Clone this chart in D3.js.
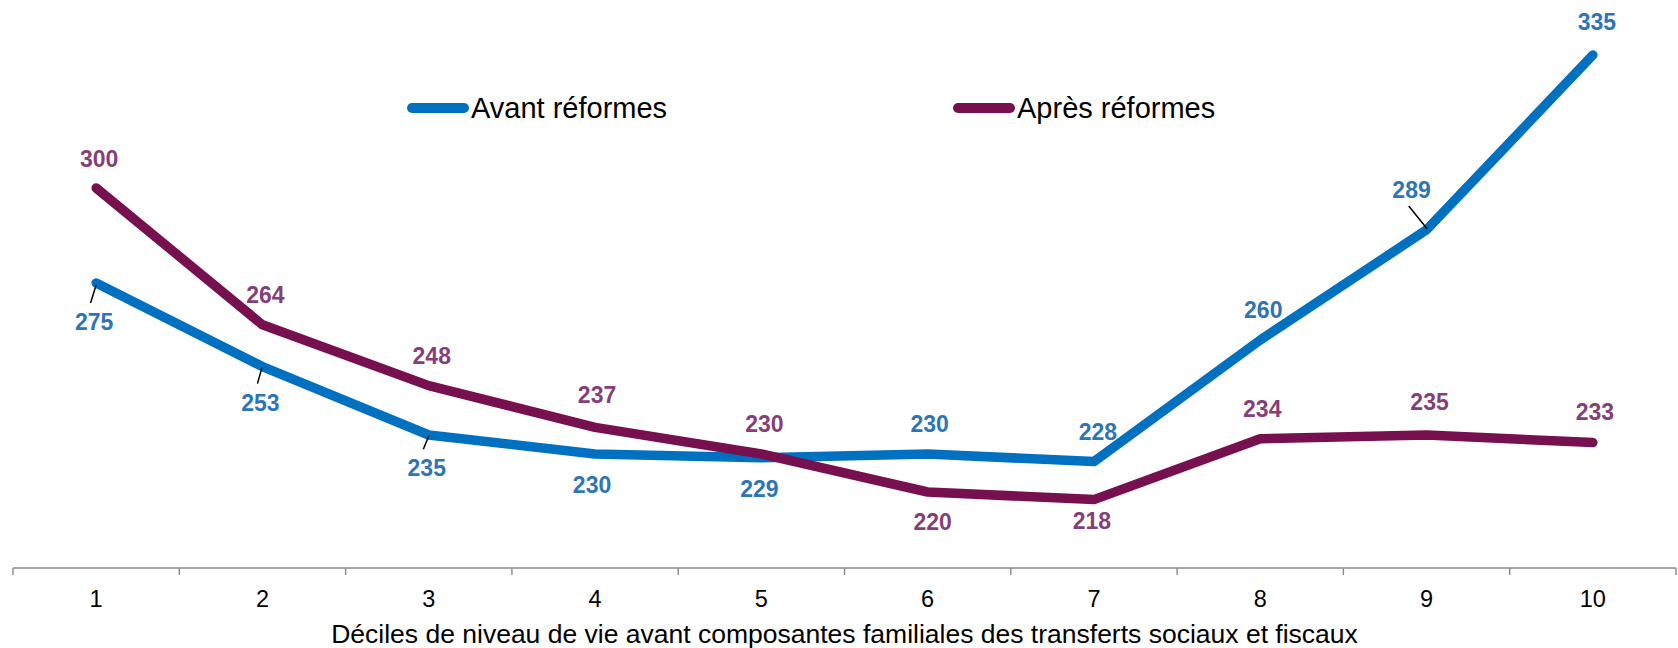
<!DOCTYPE html>
<html>
<head>
<meta charset="utf-8">
<script src="https://cdn.jsdelivr.net/npm/d3@7"></script>
<style>
  html, body { margin: 0; padding: 0; background: #fff; }
  svg { display: block; font-family: "Liberation Sans", Arial, sans-serif; }
</style>
</head>
<body>
<svg width="1678" height="648"></svg>
<script>
// data
const deciles = ['1', '2', '3', '4', '5', '6', '7', '8', '9', '10']
const avant = [275, 253, 235, 230, 229, 230, 228, 260, 289, 335]
const apres = [300, 264, 248, 237, 230, 220, 218, 234, 235, 233]
const seriesNames = ['Avant réformes', 'Après réformes']
const axisTitle = 'Déciles de niveau de vie avant composantes familiales des transferts sociaux et fiscaux'

const blue = '#0070c0',
    purple = '#77104f',
    blueLabel = '#2e75b6',
    purpleLabel = '#853f78',
    axes_color = '#8a8a8a'

const svg = d3.select('svg'),
    width = +svg.attr('width'),
    height = +svg.attr('height')

const x = d3.scaleBand()
    .domain(deciles)
    .range([13, 1676])
    .padding(0),
    y = d3.scaleLinear()
    .domain([200, 350])
    .range([568, -2]),
    cx = (i) => x(deciles[i]) + x.bandwidth() / 2

// label offsets from each point (label centre), in px
const avantOffsets = [[-2, 39], [-2, 36], [-2, 33], [-3, 31], [-2, 31],
    [2, -30], [4, -30], [3, -30], [-15, -40], [4, -33]]
const apresOffsets = [[3, -29], [3, -30], [3, -30], [2, -32], [3, -30],
    [5, 30], [-2, 21], [2, -30], [3, -33], [2, -31]]
// little leader lines on some of the blue labels
const avantLeaders = [
    { i: 0, d: [0, 2, -5.6, 20] },
    { i: 1, d: [-0.5, 1, -5, 17] },
    { i: 2, d: [0, 1, -5.4, 14.3] },
    { i: 8, d: [-17.8, -23.8, 0.5, -1] }
]

// x axis: domain line + ticks on band edges
const axis = svg.append('g')
axis.append('line')
    .attr('x1', x.range()[0]).attr('x2', x.range()[1])
    .attr('y1', y(200)).attr('y2', y(200))
    .style('stroke', axes_color).style('stroke-width', 1.4)

const edges = deciles.map((d) => x(d)).concat([x.range()[1]])
axis.selectAll('.tick')
    .data(edges)
    .enter().append('line')
    .attr('x1', (d) => d).attr('x2', (d) => d)
    .attr('y1', y(200)).attr('y2', y(200) + 7)
    .style('stroke', axes_color).style('stroke-width', 1.4)

axis.selectAll('.ticklabel')
    .data(deciles)
    .enter().append('text')
    .attr('x', (d, i) => cx(i))
    .attr('y', 606.5)
    .attr('text-anchor', 'middle')
    .style('font-size', '23.5px')
    .style('fill', '#000')
    .text((d) => d)

svg.append('text')
    .attr('x', (x.range()[0] + x.range()[1]) / 2)
    .attr('y', 643)
    .attr('text-anchor', 'middle')
    .style('font-size', '26.5px')
    .style('fill', '#000')
    .text(axisTitle)

// lines
const line = d3.line()
    .x((d, i) => cx(i))
    .y((d) => y(d))

function drawSeries(values, col) {
    svg.append('path')
        .datum(values)
        .attr('d', line)
        .style('fill', 'none')
        .style('stroke', col)
        .style('stroke-width', 9.5)
        .style('stroke-linecap', 'round')
        .style('stroke-linejoin', 'round')
}
drawSeries(avant, blue)
drawSeries(apres, purple)

// leader lines
svg.selectAll('.leader')
    .data(avantLeaders)
    .enter().append('line')
    .attr('x1', (d) => cx(d.i) + d.d[0])
    .attr('y1', (d) => y(avant[d.i]) + d.d[1])
    .attr('x2', (d) => cx(d.i) + d.d[2])
    .attr('y2', (d) => y(avant[d.i]) + d.d[3])
    .style('stroke', '#000')
    .style('stroke-width', 1.5)

// data labels
function drawLabels(values, offsets, col) {
    svg.append('g').selectAll('text')
        .data(values)
        .enter().append('text')
        .attr('x', (d, i) => cx(i) + offsets[i][0])
        .attr('y', (d, i) => y(d) + offsets[i][1])
        .attr('dy', '0.35em')
        .attr('text-anchor', 'middle')
        .style('font-size', '23px')
        .style('font-weight', 'bold')
        .style('fill', col)
        .text((d) => d)
}
drawLabels(avant, avantOffsets, blueLabel)
drawLabels(apres, apresOffsets, purpleLabel)

// legend
const legend = svg.append('g')
const legendItems = [
    { name: seriesNames[0], col: blue, x0: 412 },
    { name: seriesNames[1], col: purple, x0: 958 }
]
legendItems.forEach(function (d) {
    legend.append('line')
        .attr('x1', d.x0).attr('x2', d.x0 + 52)
        .attr('y1', 108).attr('y2', 108)
        .style('stroke', d.col)
        .style('stroke-width', 10)
        .style('stroke-linecap', 'round')
    legend.append('text')
        .attr('x', d.x0 + 59)
        .attr('y', 117.5)
        .style('font-size', '29px')
        .style('fill', '#000')
        .text(d.name)
})
</script>
</body>
</html>
